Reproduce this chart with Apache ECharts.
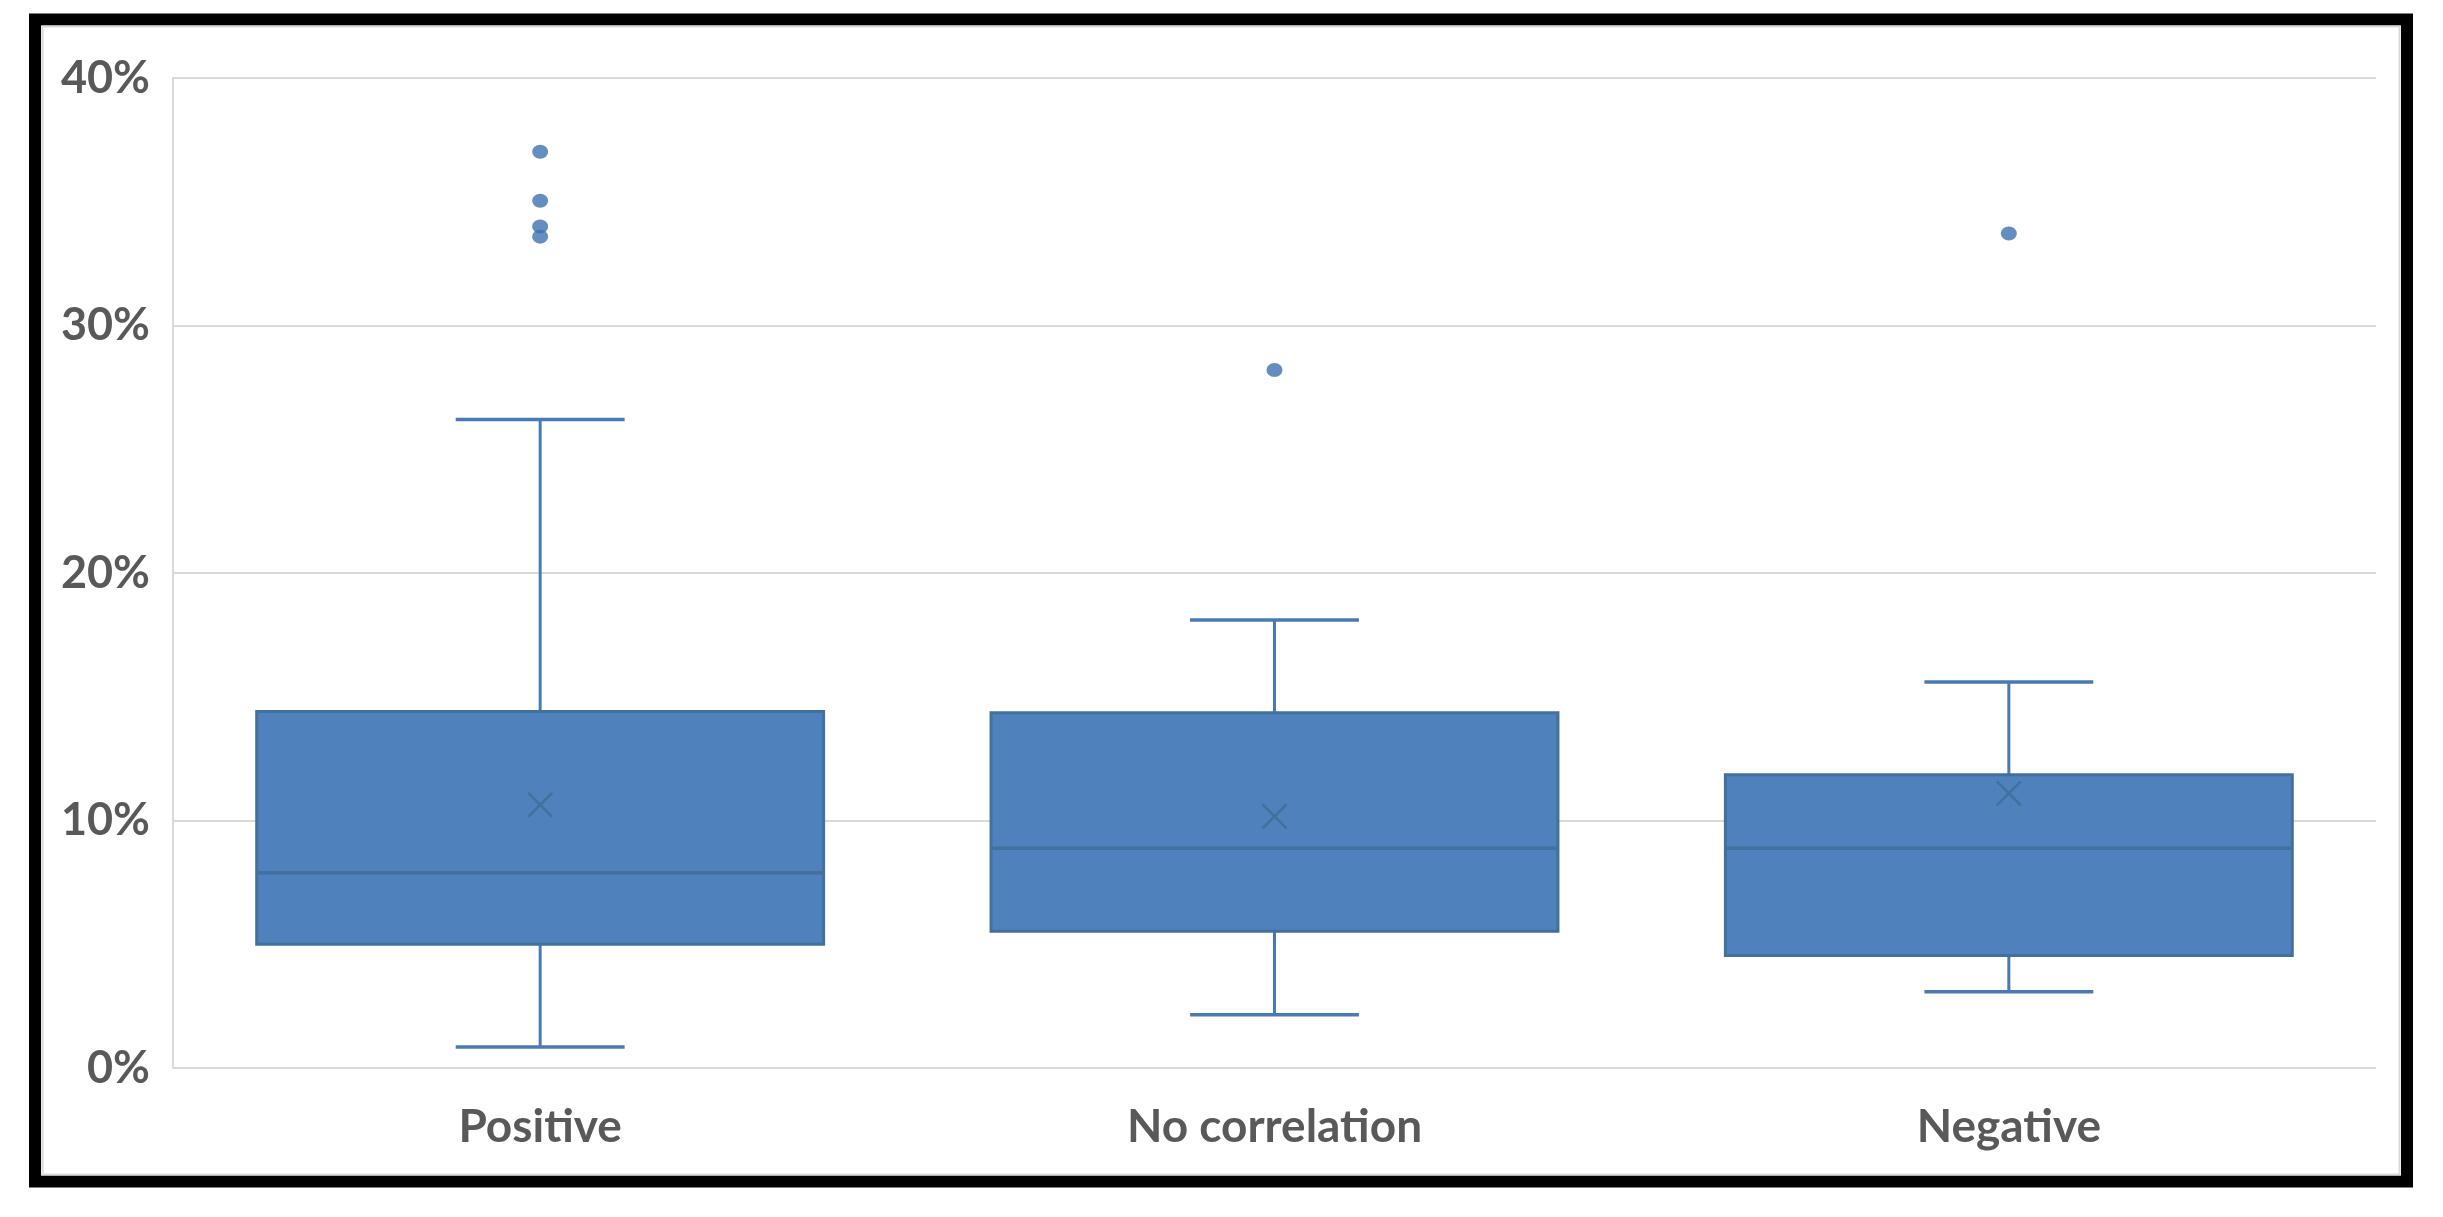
<!DOCTYPE html>
<html>
<head>
<meta charset="utf-8">
<script src="https://cdn.jsdelivr.net/npm/echarts@6/dist/echarts.min.js"></script>
<style>
html,body{margin:0;padding:0;background:#fff;}
#c{width:2443px;height:1217px;}
</style>
</head>
<body>
<div id="c"></div>
<script>
// Categories
const categories = ['Positive', 'No correlation', 'Negative'];
// Five-number summary per category (percent)
const whiskerLow  = [0.85, 2.15, 3.08];
const quartile1   = [5.0, 5.53, 4.55];
const medians     = [7.89, 8.88, 8.88];
const quartile3   = [14.4, 14.35, 11.85];
const whiskerHigh = [26.2, 18.1, 15.6];
const means       = [10.63, 10.17, 11.1];
// Outliers: [category index, value %]
const outlierCat  = [0, 0, 0, 0, 1, 2];
const outlierVal  = [37.02, 35.04, 34.0, 33.59, 28.2, 33.72];
// Y tick values
const yTicks = [0, 10, 20, 30, 40];

const boxData = categories.map((c, i) => [i, whiskerLow[i], quartile1[i], medians[i], quartile3[i], whiskerHigh[i], means[i]]);
const outlierData = outlierCat.map((c, i) => [c, outlierVal[i]]);

const FILL = '#4f81bd';
const EDGE = '#41719c';
const WHISK = '#4a7ab5';

const chart = echarts.init(document.getElementById('c'));
chart.setOption({
  backgroundColor: '#fff',
  animation: false,
  grid: { left: 173, right: 67, top: 78, bottom: 149, containLabel: false },
  graphic: [
    { type: 'rect', silent: true, shape: { x: 35, y: 19.5, width: 2372, height: 1162 },
      style: { fill: 'none', stroke: '#000', lineWidth: 12 } },
    { type: 'rect', silent: true, shape: { x: 42.5, y: 26.5, width: 2357, height: 1148 },
      style: { fill: 'none', stroke: '#d9d9d9', lineWidth: 2 } }
  ],
  xAxis: {
    type: 'category',
    data: categories,
    boundaryGap: true,
    axisLine: { show: false },
    axisTick: { show: false },
    axisLabel: { margin: 36, color: '#595959', fontFamily: 'Lato', fontWeight: 'bold', fontSize: 46 },
    splitLine: { show: false }
  },
  yAxis: {
    type: 'value',
    min: yTicks[0],
    max: yTicks[yTicks.length - 1],
    interval: 10,
    axisLine: { show: true, lineStyle: { color: '#d9d9d9', width: 2 } },
    axisTick: { show: false },
    axisLabel: { margin: 23, color: '#595959', fontFamily: 'Lato', fontWeight: 'bold', fontSize: 45,
      formatter: v => v + '%' },
    splitLine: { show: true, lineStyle: { color: '#d9d9d9', width: 2 } }
  },
  series: [
    {
      type: 'custom',
      data: boxData,
      encode: { x: 0, y: [1, 2, 3, 4, 5, 6] },
      renderItem: function (params, api) {
        const i = api.value(0);
        const band = api.size([1, 0])[0];
        const bw = band * 0.772;
        const cw = band * 0.23;
        const pLow = api.coord([i, api.value(1)]);
        const pQ1 = api.coord([i, api.value(2)]);
        const pMed = api.coord([i, api.value(3)]);
        const pQ3 = api.coord([i, api.value(4)]);
        const pHigh = api.coord([i, api.value(5)]);
        const pMean = api.coord([i, api.value(6)]);
        const cx = pQ1[0];
        const m = 12;
        return {
          type: 'group',
          children: [
            { type: 'line', shape: { x1: cx, y1: pQ3[1], x2: cx, y2: pHigh[1] }, style: { stroke: WHISK, lineWidth: 3 } },
            { type: 'line', shape: { x1: cx - cw / 2, y1: pHigh[1], x2: cx + cw / 2, y2: pHigh[1] }, style: { stroke: WHISK, lineWidth: 3.5 } },
            { type: 'line', shape: { x1: cx, y1: pQ1[1], x2: cx, y2: pLow[1] }, style: { stroke: WHISK, lineWidth: 3 } },
            { type: 'line', shape: { x1: cx - cw / 2, y1: pLow[1], x2: cx + cw / 2, y2: pLow[1] }, style: { stroke: WHISK, lineWidth: 3.5 } },
            { type: 'rect', shape: { x: cx - bw / 2, y: pQ3[1], width: bw, height: pQ1[1] - pQ3[1] },
              style: { fill: FILL, stroke: EDGE, lineWidth: 3 } },
            { type: 'line', shape: { x1: cx - bw / 2, y1: pMed[1], x2: cx + bw / 2, y2: pMed[1] }, style: { stroke: EDGE, lineWidth: 3.5 } },
            { type: 'line', shape: { x1: pMean[0] - m, y1: pMean[1] - m, x2: pMean[0] + m, y2: pMean[1] + m }, style: { stroke: EDGE, lineWidth: 2.5 } },
            { type: 'line', shape: { x1: pMean[0] - m, y1: pMean[1] + m, x2: pMean[0] + m, y2: pMean[1] - m }, style: { stroke: EDGE, lineWidth: 2.5 } }
          ]
        };
      }
    },
    {
      type: 'scatter',
      data: outlierData,
      symbol: 'circle',
      symbolSize: [16, 14],
      itemStyle: { color: '#3f72b0' }
    }
  ]
});
</script>
</body>
</html>
